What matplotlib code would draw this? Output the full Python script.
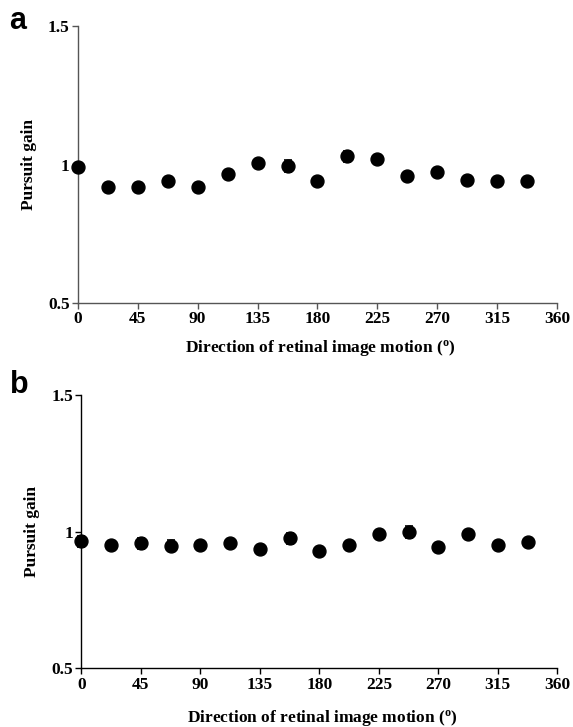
import matplotlib
matplotlib.use("Agg")
import matplotlib.pyplot as plt
import numpy as np

directions = [0, 22.5, 45, 67.5, 90, 112.5, 135, 157.5, 180, 202.5, 225, 247.5, 270, 292.5, 315, 337.5]
gain_a = [0.99, 0.92, 0.92, 0.94, 0.92, 0.967, 1.007, 0.996, 0.942, 1.031, 1.021, 0.96, 0.972, 0.944, 0.941, 0.942]
err_a = [0.01, 0.008, 0.015, 0.008, 0.012, 0.01, 0.01, 0.022, 0.006, 0.02, 0.01, 0.015, 0.008, 0.012, 0.008, 0.008]
gain_b = [0.965, 0.953, 0.957, 0.948, 0.953, 0.957, 0.935, 0.975, 0.929, 0.951, 0.991, 0.999, 0.944, 0.991, 0.950, 0.963]
err_b = [0.02, 0.008, 0.02, 0.02, 0.01, 0.015, 0.008, 0.02, 0.01, 0.008, 0.01, 0.022, 0.008, 0.01, 0.008, 0.008]
xticks = [0, 45, 90, 135, 180, 225, 270, 315, 360]
yticks = [0.5, 1.0, 1.5]
ytick_labels = ["0.5", "1", "1.5"]
xlabel = r"Direction of retinal image motion ($^{\mathbf{o}}$)"
ylabel = "Pursuit gain"

plt.rcParams['font.family'] = ['Liberation Serif', 'DejaVu Serif']
plt.rcParams['font.weight'] = 'bold'
plt.rcParams['mathtext.fontset'] = 'custom'
plt.rcParams['mathtext.rm'] = 'Liberation Serif:bold'
plt.rcParams['mathtext.bf'] = 'Liberation Serif:bold'
plt.rcParams['mathtext.it'] = 'Liberation Serif:bold'

FS = 12.5
fig = plt.figure(figsize=(5.73, 7.27), dpi=100)

def panel(rect, gains, errs, spine_color, label, label_xy, xlabel_y):
    ax = fig.add_axes(rect)
    ax.errorbar(directions, gains, yerr=errs, fmt='o', color='black', ms=9.3,
                ecolor='black', elinewidth=1.2, capsize=3, capthick=1.2, zorder=3)
    ax.set_xlim(0, 360)
    ax.set_ylim(0.5, 1.5)
    ax.set_xticks(xticks)
    ax.set_xticklabels([str(t) for t in xticks], fontsize=FS, fontweight='bold')
    ax.set_yticks(yticks)
    ax.set_yticklabels(ytick_labels, fontsize=FS, fontweight='bold')
    for s in ['top', 'right']:
        ax.spines[s].set_visible(False)
    for s in ['left', 'bottom']:
        ax.spines[s].set_color(spine_color)
        ax.spines[s].set_linewidth(1.0)
    ax.tick_params(direction='out', length=4, width=1.0, color=spine_color, pad=2)
    ax.set_ylabel(ylabel, fontsize=FS, fontweight='bold', labelpad=8)
    fig.text(rect[0] + rect[2] / 2 + 0.005, xlabel_y, xlabel, fontsize=FS, fontweight='bold',
             ha='center', va='center')
    fig.text(label_xy[0], label_xy[1], label, fontsize=22, fontweight='bold',
             family=['Liberation Sans'], ha='center', va='center')
    ax.patch.set_alpha(0)
    for line in ax.lines:
        line.set_clip_on(False)
    for coll in ax.collections:
        coll.set_clip_on(False)
    return ax

ax_a = panel([0.136, 0.583, 0.836, 0.381], gain_a, err_a, '#555555', 'a',
             (0.031, 1 - 21 / 727), 1 - 348 / 727)
ax_b = panel([0.142, 0.0807, 0.8306, 0.376], gain_b, err_b, 'black', 'b',
             (0.033, 1 - 385 / 727), 1 - 718 / 727)

fig.savefig("out.png", dpi=100)
